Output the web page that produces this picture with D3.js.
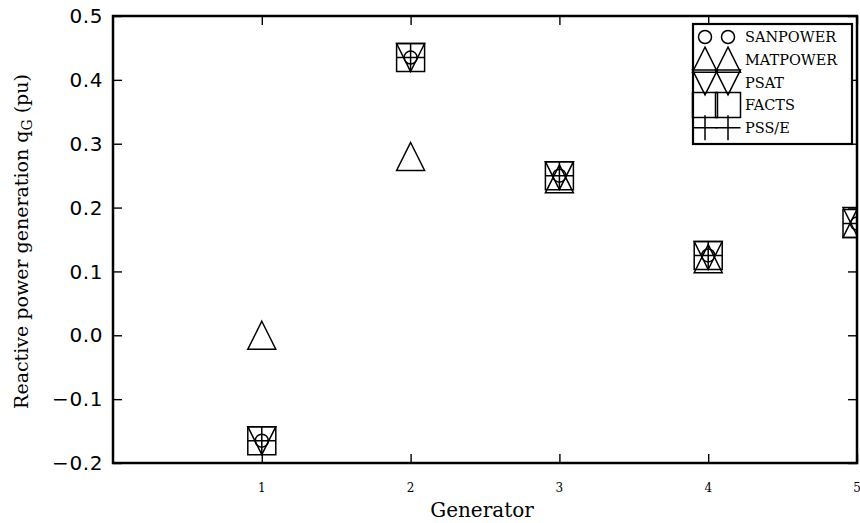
<!DOCTYPE html>
<html>
<head>
<meta charset="utf-8">
<script src="https://cdn.jsdelivr.net/npm/d3@7"></script>
<style>
  body { margin: 0; background: #fff; }
  svg { display: block; }
</style>
</head>
<body>
<div id="chart"></div>
<script>
// values
const generators = [1, 2, 3, 4, 5];
const sanpower = [-0.165, 0.435, 0.25, 0.125, 0.175];
const matpower = [0.0, 0.28, 0.245, 0.12, 0.175];
const psat = [-0.165, 0.435, 0.25, 0.125, 0.178];
const facts = [-0.165, 0.435, 0.25, 0.125, 0.175];
const psse = [-0.165, 0.435, 0.25, 0.125, 0.175];

const seriesNames = ["SANPOWER", "MATPOWER", "PSAT", "FACTS", "PSS/E"];
const seriesShapes = ["circle", "triUp", "triDown", "square", "plus"];
const seriesValues = [sanpower, matpower, psat, facts, psse];

const xTicks = [1, 2, 3, 4, 5];
const yTicks = [-0.2, -0.1, 0.0, 0.1, 0.2, 0.3, 0.4, 0.5];

const W = 860, H = 523;
const m = { left: 113, right: 3, top: 16, bottom: 60 };
const iw = W - m.left - m.right, ih = H - m.top - m.bottom;

const svg = d3.select("#chart").append("svg")
  .attr("width", W).attr("height", H);

const x = d3.scaleLinear().domain([0, 5]).range([0, iw]);
const y = d3.scaleLinear().domain([-0.2, 0.5]).range([ih, 0]);

const g = svg.append("g").attr("transform", `translate(${m.left},${m.top})`);

svg.append("defs").append("clipPath").attr("id", "plotclip")
  .append("rect").attr("width", iw).attr("height", ih);

// marker path, centered on 0,0
function markerPath(shape, s) {
  const p = d3.path(), h = s / 2;
  if (shape === "circle") {
    p.arc(0, 0, 6.5, 0, 2 * Math.PI);
  } else if (shape === "triUp") {
    p.moveTo(0, -h); p.lineTo(h, h); p.lineTo(-h, h); p.closePath();
  } else if (shape === "triDown") {
    p.moveTo(0, h); p.lineTo(h, -h); p.lineTo(-h, -h); p.closePath();
  } else if (shape === "square") {
    p.rect(-h, -h, s, s);
  } else {
    p.moveTo(-h, 0); p.lineTo(h, 0); p.moveTo(0, -h); p.lineTo(0, h);
  }
  return p.toString();
}
const msize = 28;

// ticks, inward on all four sides
const tl = 9;
const yAxisL = d3.axisLeft(y).tickValues(yTicks).tickSize(-tl).tickFormat("");
const yAxisR = d3.axisRight(y).tickValues(yTicks).tickSize(-tl).tickFormat("");
const xAxisB = d3.axisBottom(x).tickValues(xTicks).tickSize(-tl).tickFormat("");
const xAxisT = d3.axisTop(x).tickValues(xTicks).tickSize(-tl).tickFormat("");

g.append("g").call(yAxisL);
g.append("g").attr("transform", `translate(${iw},0)`).call(yAxisR);
g.append("g").attr("transform", `translate(0,${ih})`).call(xAxisB);
g.append("g").call(xAxisT);
g.selectAll(".domain").remove();
g.selectAll(".tick line").attr("stroke", "#000").attr("stroke-width", 1.4);

// tick labels
g.selectAll("text.ylab").data(yTicks).join("text")
  .attr("class", "ylab")
  .attr("x", -10).attr("y", d => y(d))
  .attr("dy", "0.36em")
  .attr("text-anchor", "end")
  .attr("font-family", "DejaVu Sans")
  .attr("font-size", 20)
  .attr("letter-spacing", 0.6)
  .text(d => d3.format(".1f")(d).replace("-", "\u2212"));

g.selectAll("text.xlab").data(xTicks).join("text")
  .attr("class", "xlab")
  .attr("x", d => x(d)).attr("y", ih + 29)
  .attr("text-anchor", "middle")
  .attr("font-family", "DejaVu Serif")
  .attr("font-size", 12)
  .text(d => d);

// markers
const pts = g.append("g").attr("clip-path", "url(#plotclip)");
seriesValues.forEach((vals, i) => {
  pts.selectAll(null).data(vals).join("path")
    .attr("transform", (d, j) => `translate(${x(generators[j])},${y(d)})`)
    .attr("d", markerPath(seriesShapes[i], msize))
    .attr("fill", "none").attr("stroke", "#000").attr("stroke-width", 1.5);
});

// frame
g.append("rect").attr("width", iw).attr("height", ih)
  .attr("fill", "none").attr("stroke", "#000").attr("stroke-width", 2.5);

// axis titles
svg.append("text")
  .attr("x", m.left + iw / 2 - 3).attr("y", 517)
  .attr("text-anchor", "middle")
  .attr("font-family", "DejaVu Serif").attr("font-size", 20)
  .text("Generator");

const yt = svg.append("text")
  .attr("transform", `translate(28,${m.top + ih / 2 + 2}) rotate(-90)`)
  .attr("text-anchor", "middle")
  .attr("font-family", "DejaVu Serif").attr("font-size", 19);
yt.append("tspan").text("Reactive power generation q");
yt.append("tspan").attr("font-size", 14).attr("dy", 4).text("G");
yt.append("tspan").attr("dy", -4).text(" (pu)");

// legend
const lg = svg.append("g").attr("transform", "translate(693,24)");
lg.append("rect").attr("width", 159).attr("height", 120)
  .attr("fill", "#fff").attr("stroke", "#000").attr("stroke-width", 2.2);
seriesNames.forEach((name, i) => {
  const cy = 13 + i * 22.7;
  [12, 35].forEach(cx => {
    lg.append("path")
      .attr("transform", `translate(${cx},${cy})`)
      .attr("d", markerPath(seriesShapes[i], 25))
      .attr("fill", "none").attr("stroke", "#000").attr("stroke-width", 1.5);
  });
  lg.append("text")
    .attr("x", 52).attr("y", cy).attr("dy", "0.36em")
    .attr("font-family", "DejaVu Serif").attr("font-size", 14.5)
    .text(name);
});
</script>
</body>
</html>
